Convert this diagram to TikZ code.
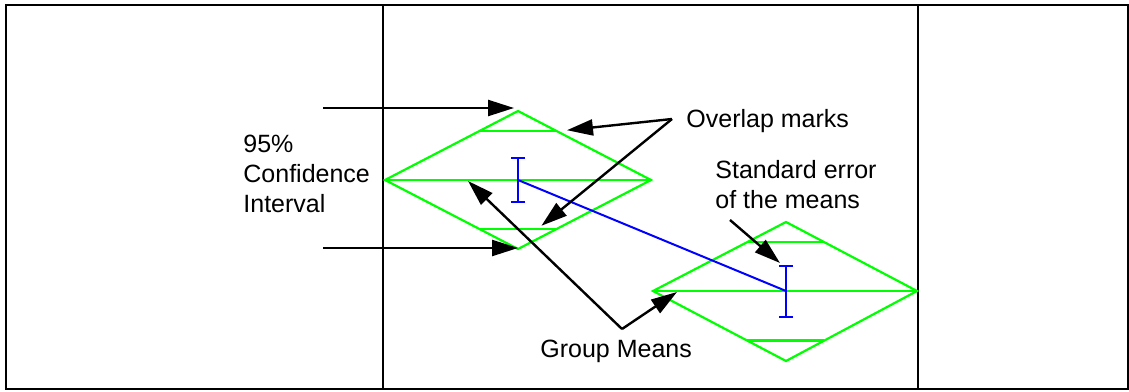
\documentclass[tikz,border=0pt]{standalone}
\usepackage{fontspec}
\setmainfont{Liberation Sans}
\usetikzlibrary{arrows.meta,calc}

\begin{document}
\begin{tikzpicture}[
    x=0.5pt, y=-0.5pt,
    frame/.style={draw, line width=1.3pt},
    ci/.style={draw=green, line width=1.1pt},
    se/.style={draw=blue, line width=1pt},
    sebar/.style={se, {Bar[width=7pt]}-{Bar[width=7pt]}},
    lbl/.style={font=\fontsize{12.5}{15}\selectfont, inner sep=0pt, align=left},
    arr/.style={-{Triangle[length=13pt, width=8pt]}, line width=1.2pt},
  ]
  \useasboundingbox (0,0) rectangle (1129,391);
  \draw[frame] (6,5) rectangle (1128,389);
  \draw[frame] (383,5) -- (383,389);
  \draw[frame] (918,5) -- (918,389);

  % first group
  \coordinate (a) at (518,180);
  \coordinate (a-w) at (385,180);
  \coordinate (a-e) at (651,180);
  \coordinate (a-n) at (518,111);
  \coordinate (a-s) at (518,249);
  \draw[ci] (a-w) -- (a-n) -- (a-e) -- (a-s) -- cycle;
  \draw[ci] (a-w) -- (a-e);
  \draw[ci] ($(a-w)!0.707!(a-n)$) coordinate (a-uw) -- ($(a-e)!0.707!(a-n)$) coordinate (a-ue);
  \draw[ci] ($(a-w)!0.707!(a-s)$) coordinate (a-lw) -- ($(a-e)!0.707!(a-s)$) coordinate (a-le);

  % second group
  \coordinate (b) at (786,291);
  \coordinate (b-w) at (653,291);
  \coordinate (b-e) at (917,291);
  \coordinate (b-n) at (786,222);
  \coordinate (b-s) at (786,361);
  \draw[ci] (b-w) -- (b-n) -- (b-e) -- (b-s) -- cycle;
  \draw[ci] (b-w) -- (b-e);
  \draw[ci] ($(b-w)!0.707!(b-n)$) -- ($(b-e)!0.707!(b-n)$);
  \draw[ci] ($(b-w)!0.707!(b-s)$) -- ($(b-e)!0.707!(b-s)$);

  % means and standard errors
  \draw[se] (a) -- (b);
  \draw[sebar] ($(a)+(0,-23)$) coordinate (a-se) -- ($(a)+(0,23)$);
  \draw[sebar] ($(b)+(0,-26)$) coordinate (b-se) -- ($(b)+(0,27)$);

  % labels (base = last line)
  \node[lbl, anchor=base west] (cilabel) at (243,212) {95\%\\Confidence\\Interval};
  \node[lbl, anchor=base west] (overlap) at (686,127) {Overlap marks};
  \node[lbl, anchor=base west] (selabel) at (715,208) {Standard error\\of the means};
  \node[lbl, anchor=base west] (groupmeans) at (540,357) {Group Means};

  \coordinate (citop) at (323,108);
  \coordinate (cibot) at (323,248);
  \coordinate (ovl) at (672,119);
  \coordinate (gm) at (622,329);
  \coordinate (setail) at (730,220);

  \draw[arr, shorten >=2pt] (citop) -- (citop -| a-n);
  \draw[arr] (cibot) -- (cibot -| a-s);
  \draw[arr] (ovl) -- ($(a-ue)+(10,-1)$);
  \draw[arr] (ovl) -- ($(a-lw)!0.8!(a-le)+(0,-3)$);
  \draw[arr] (gm) -- ($(a)+(-50,1)$);
  \draw[arr] (gm) -- ($(b-w)+(24,1)$);
  \draw[arr] (setail) -- ($(b-se)+(-6,-2)$);
\end{tikzpicture}
\end{document}
